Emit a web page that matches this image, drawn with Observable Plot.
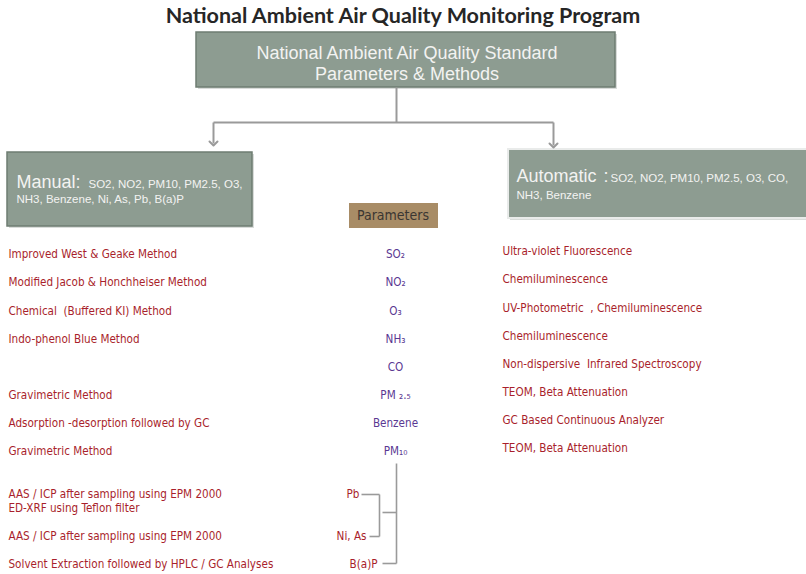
<!DOCTYPE html>
<html><head><meta charset="utf-8">
<script src="https://cdn.jsdelivr.net/npm/d3@7"></script>
<script src="https://cdn.jsdelivr.net/npm/@observablehq/plot@0.6"></script>
<style>
body{margin:0;background:#fff;}
#title{height:30px;width:806px;box-sizing:border-box;padding-top:1px;text-align:center;font:700 21.5px Lato, "Open Sans", sans-serif;color:#262626;line-height:28px;}
svg text.boxtxt{word-spacing:3px;}
svg text.method{font-weight:500;}
</style></head><body>
<div id="title">National Ambient Air Quality Monitoring Program</div>
<div id="chart"></div>
<script>
// ---- content ----
const headerLines = ["National Ambient Air Quality Standard", "Parameters & Methods"];
const manualHead = "Manual:";
const manualList = ["SO2, NO2, PM10, PM2.5, O3,", "NH3, Benzene, Ni, As, Pb, B(a)P"];
const autoHead = "Automatic";
const autoList = ["SO2, NO2, PM10, PM2.5, O3, CO,", "NH3, Benzene"];
const paramHeader = "Parameters";
const parameters = ["SO₂", "NO₂", "O₃", "NH₃", "CO", "PM ₂.₅", "Benzene", "PM₁₀"];
const manualMethods = ["Improved West & Geake Method", "Modified Jacob & Honchheiser Method", "Chemical  (Buffered KI) Method", "Indo-phenol Blue Method", "", "Gravimetric Method", "Adsorption -desorption followed by GC", "Gravimetric Method"];
const automaticMethods = ["Ultra-violet Fluorescence", "Chemiluminescence", "UV-Photometric  , Chemiluminescence", "Chemiluminescence", "Non-dispersive  Infrared Spectroscopy", "TEOM, Beta Attenuation", "GC Based Continuous Analyzer", "TEOM, Beta Attenuation"];
const metalParameters = ["Pb", "Ni, As", "B(a)P"];
const metalMethods = [["AAS / ICP after sampling using EPM 2000", "ED-XRF using Teflon filter"], ["AAS / ICP after sampling using EPM 2000"], ["Solvent Extraction followed by HPLC / GC Analyses"]];

// ---- layout ----
const W = 806, TOP = 30, H = 574 - TOP;
const BOX = "#8d9c91", EDGE = "#6e7c72", LINE = "#9a9a9a", RED = "#a91f2c", PURPLE = "#5a3892";
const METHOD_FONT = "'DejaVu Sans Condensed', 'DejaVu Sans', sans-serif";
const BOX_FONT = "'Liberation Sans', Arial, sans-serif";
const FS = 11.6;
const hdr = {x1: 196, x2: 615, y1: 32, y2: 87};
const man = {x1: 7, x2: 252, y1: 152, y2: 226};
const aut = {x1: 508, x2: 812, y1: 149, y2: 218};
const par = {x1: 349, x2: 438, y1: 203, y2: 228};
const rowY0 = 254, rowStep = 28.15, autoShift = -3;
const paramX = 395, leftX = 8, rightX = 502;

const rows = parameters.map((p, i) => ({param: p, manual: manualMethods[i], auto: automaticMethods[i], y: rowY0 + i * rowStep}));
const metalY = [494, 536, 564];
const metalEnd = [359, 366, 377];
const metalRows = metalParameters.map((p, i) => ({param: p, y: metalY[i], xEnd: metalEnd[i]}));
const metalMethodRows = metalMethods.flatMap((lines, i) => lines.map((t, j) => ({text: t, y: metalY[i] + j * 14})));

const midX = hdr.x1 + 200, armL = 213, armR = 553, armY = 122;
const connectors = [
  {x1: midX, y1: hdr.y2, x2: midX, y2: armY},
  {x1: armL, y1: armY, x2: armR, y2: armY}
];
const arrows = [
  {x1: armL, y1: armY, x2: armL, y2: 143},
  {x1: armR, y1: armY, x2: armR, y2: 145}
];
const spineX = 396, subX = 379;
const brackets = [
  {x1: spineX, y1: 463, x2: spineX, y2: metalY[2] - 1},
  {x1: metalEnd[0] + 2, y1: metalY[0], x2: subX, y2: metalY[0]},
  {x1: subX, y1: metalY[0], x2: subX, y2: metalY[1]},
  {x1: metalEnd[1] + 3, y1: metalY[1], x2: subX, y2: metalY[1]},
  {x1: subX + 3, y1: (metalY[0] + metalY[1]) / 2 - 3, x2: spineX, y2: (metalY[0] + metalY[1]) / 2 - 3},
  {x1: metalEnd[2] + 5, y1: metalY[2] - 1, x2: spineX, y2: metalY[2] - 1}
];
const shadow = (b) => ({x1: b.x1 + 2, x2: b.x2 + 2, y1: b.y1 + 2, y2: b.y2 + 2});

const chart = Plot.plot({
  width: W, height: H, margin: 0,
  x: {domain: [0, W], range: [0, W], axis: null},
  y: {domain: [TOP, TOP + H], range: [0, H], axis: null},
  marks: [
    // boxes
    Plot.rect([hdr, man, aut].map(shadow), {x1: "x1", x2: "x2", y1: "y1", y2: "y2", fill: "#c9cdca", fillOpacity: 0.7}),
    Plot.rect([hdr, man], {x1: "x1", x2: "x2", y1: "y1", y2: "y2", fill: BOX, stroke: EDGE, strokeWidth: 1.5}),
    Plot.rect([aut], {x1: "x1", x2: "x2", y1: "y1", y2: "y2", fill: BOX, stroke: "#e9ebea", strokeWidth: 2}),
    Plot.rect([par], {x1: "x1", x2: "x2", y1: "y1", y2: "y2", fill: "#a88c66"}),
    // connectors
    Plot.link(connectors, {x1: "x1", y1: "y1", x2: "x2", y2: "y2", stroke: LINE, strokeWidth: 2}),
    Plot.link(arrows, {x1: "x1", y1: "y1", x2: "x2", y2: "y2", stroke: LINE, strokeWidth: 2, markerEnd: "arrow"}),
    Plot.link(brackets, {x1: "x1", y1: "y1", x2: "x2", y2: "y2", stroke: LINE, strokeWidth: 1.6}),
    // header text
    Plot.text(headerLines, {x: (hdr.x1 + hdr.x2) / 2 + 1, y: (d, i) => [53, 74][i], text: d => d, fill: "#f3f3f1", fontSize: 18, fontFamily: BOX_FONT, className: "boxtxt"}),
    // manual box
    Plot.text([manualHead], {x: 16, y: 187, text: d => d, textAnchor: "start", lineAnchor: "bottom", fill: "#f3f3f1", fontSize: 18, fontFamily: BOX_FONT}),
    Plot.text(manualList, {x: (d, i) => [88, 16][i], y: (d, i) => [187, 202][i], text: d => d, textAnchor: "start", lineAnchor: "bottom", fill: "#f3f3f1", fontSize: 11.5, fontFamily: BOX_FONT}),
    // automatic box
    Plot.text([autoHead, ":"], {x: (d, i) => [516, 603][i], y: 181, text: d => d, textAnchor: "start", lineAnchor: "bottom", fill: "#f3f3f1", fontSize: 18, fontFamily: BOX_FONT}),
    Plot.text(autoList, {x: (d, i) => [610, 516][i], y: (d, i) => [181, 198][i], text: d => d, textAnchor: "start", lineAnchor: "bottom", fill: "#f3f3f1", fontSize: 11.5, fontFamily: BOX_FONT}),
    // parameters header
    Plot.text([paramHeader], {x: (par.x1 + par.x2) / 2 - 1, y: (par.y1 + par.y2) / 2, text: d => d, fill: "#3a3632", fontSize: 14, fontFamily: METHOD_FONT}),
    // rows
    Plot.text(rows, {x: paramX, y: "y", text: "param", fill: PURPLE, fontSize: FS, fontFamily: METHOD_FONT, className: "method"}),
    Plot.text(rows, {x: leftX, y: "y", text: "manual", textAnchor: "start", fill: RED, fontSize: FS, fontFamily: METHOD_FONT, className: "method"}),
    Plot.text(rows, {x: rightX, y: d => d.y + autoShift, text: "auto", textAnchor: "start", fill: RED, fontSize: FS, fontFamily: METHOD_FONT, className: "method"}),
    // metals
    Plot.text(metalMethodRows, {x: leftX, y: "y", text: "text", textAnchor: "start", fill: RED, fontSize: FS, fontFamily: METHOD_FONT, className: "method"}),
    Plot.text(metalRows, {x: "xEnd", y: "y", text: "param", textAnchor: "end", fill: RED, fontSize: FS, fontFamily: METHOD_FONT, className: "method"})
  ]
});
document.getElementById("chart").append(chart);
</script>
</body></html>
